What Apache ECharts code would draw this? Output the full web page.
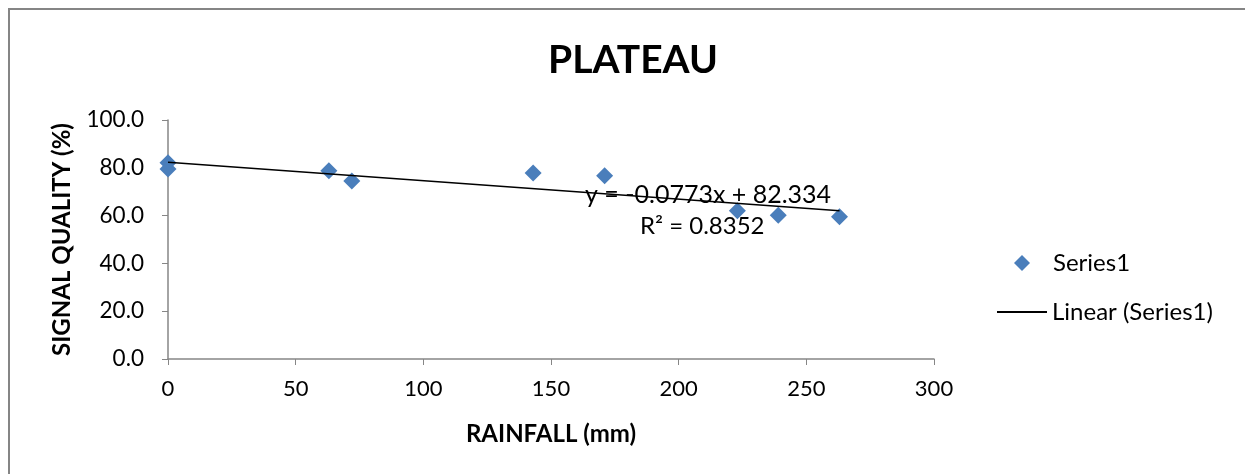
<!DOCTYPE html>
<html>
<head>
<meta charset="utf-8">
<script src="https://cdn.jsdelivr.net/npm/echarts@6/dist/echarts.min.js"></script>
<style>
  html, body { margin: 0; padding: 0; background: #fff; }
  #main { width: 1245px; height: 474px; }
</style>
</head>
<body>
<div id="main"></div>
<script>
// rainfall (mm) vs signal quality (%)
var rainfall = [0, 0, 63, 72, 143, 171, 223, 239, 263];
var signalQuality = [82.1, 79.5, 78.8, 74.5, 77.8, 76.7, 62.0, 60.1, 59.5];
// trendline end points
var trendX = [0, 263];
var trendY = [82.3, 62.0];
var xTicks = [0, 50, 100, 150, 200, 250, 300];
var yTicks = [0, 20, 40, 60, 80, 100];
var eqText = 'y = -0.0773x + 82.334';
var r2Text = 'R² = 0.8352';

var FONT = 'Lato, "Open Sans", sans-serif';
var AXIS_GRAY = '#868686';

window.onload = function () {
    var myChart = echarts.init(document.getElementById('main'));

    var points = [];
    for (var i = 0; i < rainfall.length; i++) {
        points.push([rainfall[i], signalQuality[i]]);
    }
    var trend = [];
    for (var j = 0; j < trendX.length; j++) {
        trend.push([trendX[j], trendY[j]]);
    }

    var options = {
        backgroundColor: '#fff',
        animation: false,
        title: {
            text: 'PLATEAU',
            left: 628,
            textAlign: 'center',
            top: 36,
            textStyle: { fontFamily: FONT, fontSize: 39, fontWeight: 'bold', color: '#000' }
        },
        legend: [
            {
                data: ['Series1'],
                left: 1009,
                top: 246,
                itemWidth: 16,
                itemHeight: 16,
                textStyle: { fontFamily: FONT, fontSize: 24, color: '#000', padding: [0, 0, 0, 18] }
            },
            {
                data: [{ name: 'Linear (Series1)', icon: 'rect' }],
                left: 992,
                top: 295,
                itemWidth: 50,
                itemHeight: 2,
                textStyle: { fontFamily: FONT, fontSize: 24, color: '#000' }
            }
        ],
        grid: { left: 168, right: 311, top: 120, bottom: 115 },
        xAxis: {
            type: 'value',
            min: xTicks[0],
            max: xTicks[xTicks.length - 1],
            interval: 50,
            name: 'RAINFALL (mm)',
            nameLocation: 'middle',
            nameGap: 63,
            nameTextStyle: { fontFamily: FONT, fontSize: 24, fontWeight: 'bold', color: '#000' },
            axisLine: { show: true, lineStyle: { color: AXIS_GRAY, width: 1.5 } },
            axisTick: { show: true, inside: false, length: 6, lineStyle: { color: AXIS_GRAY } },
            axisLabel: { margin: 19, fontFamily: FONT, fontSize: 22, color: '#000' },
            splitLine: { show: false }
        },
        yAxis: {
            type: 'value',
            min: yTicks[0],
            max: yTicks[yTicks.length - 1],
            interval: 20,
            name: 'SIGNAL QUALITY (%)',
            nameLocation: 'middle',
            nameGap: 94,
            nameTextStyle: { fontFamily: FONT, fontSize: 24, fontWeight: 'bold', color: '#000' },
            axisLine: { show: true, lineStyle: { color: AXIS_GRAY, width: 1.5 } },
            axisTick: { show: true, inside: false, length: 6, lineStyle: { color: AXIS_GRAY } },
            axisLabel: {
                margin: 24,
                fontFamily: FONT,
                fontSize: 22.5,
                color: '#000',
                formatter: function (v) { return v.toFixed(1); }
            },
            splitLine: { show: false }
        },
        graphic: [
            {
                type: 'polyline',
                shape: { points: [[1245, 9], [9, 9], [9, 474]] },
                style: { stroke: '#858585', lineWidth: 2, fill: null },
                silent: true
            },
            {
                type: 'text',
                left: 585,
                top: 182,
                z: 10,
                style: { text: eqText, fontFamily: FONT, fontSize: 25, fill: '#000' }
            },
            {
                type: 'text',
                left: 640,
                top: 214,
                z: 10,
                style: { text: r2Text, fontFamily: FONT, fontSize: 24, fill: '#000' }
            }
        ],
        series: [
            {
                name: 'Series1',
                type: 'scatter',
                symbol: 'diamond',
                symbolSize: 17,
                itemStyle: { color: '#4a7ebb', opacity: 1 },
                data: points,
                z: 2
            },
            {
                name: 'Linear (Series1)',
                type: 'line',
                symbol: 'none',
                lineStyle: { color: '#000', width: 1.5 },
                itemStyle: { color: '#000' },
                data: trend,
                z: 3
            }
        ]
    };
    myChart.setOption(options);
};
</script>
</body>
</html>
